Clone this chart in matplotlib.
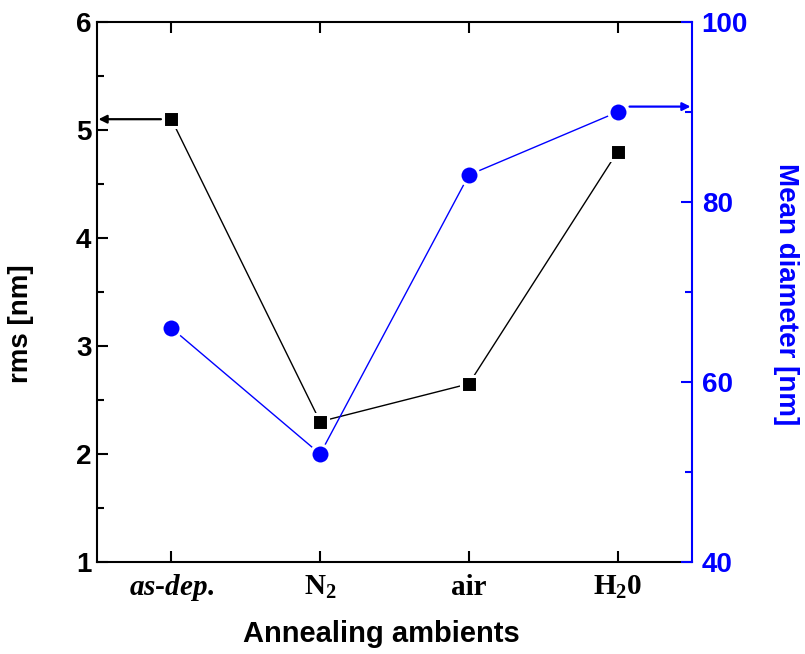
import matplotlib
matplotlib.use('Agg')
import matplotlib.pyplot as plt

# data
categories = ['$\\mathit{as}$-$\\mathit{dep.}$', 'N$_2$', 'air', 'H$_2$0']
rms_nm = [5.1, 2.3, 2.65, 4.8]
mean_diameter_nm = [66, 52, 83, 90]

plt.rcParams['font.family'] = ['Liberation Sans', 'DejaVu Sans']
plt.rcParams['font.weight'] = 'bold'
plt.rcParams['mathtext.fontset'] = 'custom'
plt.rcParams['mathtext.rm'] = 'Liberation Serif:bold'
plt.rcParams['mathtext.it'] = 'Liberation Serif:italic:bold'
plt.rcParams['mathtext.bf'] = 'Liberation Serif:bold'

blue = '#0000ff'
xpos = [1, 2, 3, 4]
W, H = 805, 654

fig = plt.figure(figsize=(8.05, 6.54), dpi=100)
ax = fig.add_axes([97 / W, 1 - 562 / H, 595 / W, 540 / H])
ax2 = ax.twinx()

# rms (left axis)
ax.plot(xpos, rms_nm, color='black', lw=1.0, marker='s', ms=12.2,
        mfc='black', mec='white', mew=2.2, zorder=3)
ax.set_xlim(0.5, 4.5)
ax.set_ylim(1, 6)
ax.set_yticks([1, 2, 3, 4, 5, 6])
ax.set_yticks([1.5, 2.5, 3.5, 4.5, 5.5], minor=True)
ax.set_xticks(xpos)
ax.set_xticklabels([])
ax.tick_params(axis='y', which='both', direction='in', labelsize=20, width=1.5, pad=4)
ax.tick_params(axis='y', which='major', length=8)
ax.tick_params(axis='y', which='minor', length=5)
ax.tick_params(axis='x', which='both', direction='in', length=8, width=1.5, top=True)
for lab in ax.get_yticklabels():
    lab.set_fontweight('bold')
for s in ['left', 'top', 'bottom']:
    ax.spines[s].set_linewidth(1.5)
ax.spines['right'].set_visible(False)

# category labels under the axis, in serif bold
trans = ax.get_xaxis_transform()
for x, name in zip(xpos, categories):
    ax.text(x, -33 / 540, name, ha='center', va='baseline', fontsize=21,
            family='Liberation Serif', fontweight='bold', transform=trans)

# axis titles
fig.text(21 / W, 1 - 324 / H, 'rms [nm]', rotation=90, ha='center', va='center',
         fontsize=20, fontweight='bold')
fig.text(381 / W, 1 - 642 / H, 'Annealing ambients', ha='center', va='baseline',
         fontsize=21, fontweight='bold')
fig.text(786 / W, 1 - 294 / H, 'Mean diameter [nm]', rotation=270, ha='center',
         va='center', fontsize=20, fontweight='bold', color=blue)

# mean diameter (right axis)
ax2.plot(xpos, mean_diameter_nm, color=blue, lw=1.0, marker='o', ms=13.7,
         mfc=blue, mec='white', mew=2.2, zorder=3)
ax2.set_ylim(40, 100)
ax2.set_yticks([40, 60, 80, 100])
ax2.set_yticks([50, 70, 90], minor=True)
ax2.tick_params(axis='y', which='both', direction='in', colors=blue, labelsize=20,
                width=1.5, pad=7)
ax2.tick_params(axis='y', which='major', length=8)
ax2.tick_params(axis='y', which='minor', length=5)
for lab in ax2.get_yticklabels():
    lab.set_fontweight('bold')
ax2.spines['right'].set_color(blue)
ax2.spines['right'].set_linewidth(1.5)
for s in ['left', 'top', 'bottom']:
    ax2.spines[s].set_visible(False)

# arrows pointing to the matching axis
ax.annotate('', xy=(0.51, 5.1), xytext=(0.93, 5.1),
            arrowprops=dict(arrowstyle='-|>', color='black', lw=1.6,
                            mutation_scale=12, shrinkA=0, shrinkB=0))
ax2.annotate('', xy=(4.49, 90.6), xytext=(4.08, 90.6),
             arrowprops=dict(arrowstyle='-|>', color=blue, lw=1.6,
                             mutation_scale=12, shrinkA=0, shrinkB=0))

fig.savefig('out.png', dpi=100)
